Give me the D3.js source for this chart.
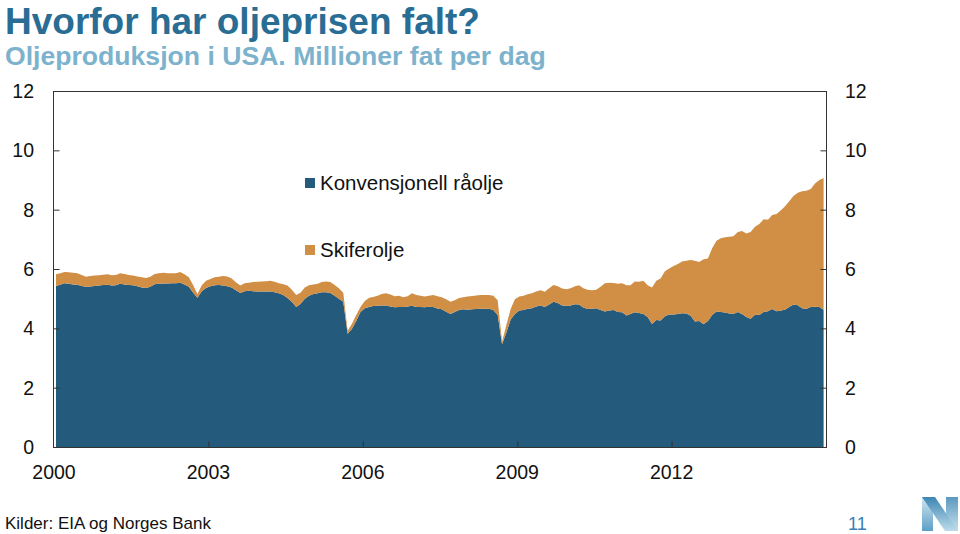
<!DOCTYPE html>
<html>
<head>
<meta charset="utf-8">
<script src="https://cdn.jsdelivr.net/npm/d3@7"></script>
<style>
  html, body { margin: 0; padding: 0; background: #fff; }
  svg { display: block; font-family: "Liberation Sans", Arial, sans-serif; }
</style>
</head>
<body>
<svg id="chart" width="960" height="534"></svg>
<script>
// ---- Data (million barrels per day, monthly from Jan 2000) ----
const seriesNames = ["Konvensjonell råolje", "Skiferolje"];
const startYear = 2000;
const conventional = [
  5.43,5.47,5.52,5.50,5.48,5.47,5.43,5.40,5.41,5.43,5.44,5.46, // 2000
  5.47,5.44,5.45,5.50,5.48,5.46,5.45,5.42,5.38,5.36,5.40,5.49, // 2001
  5.50,5.51,5.51,5.52,5.52,5.54,5.48,5.40,5.20,5.03,5.25,5.36, // 2002
  5.42,5.45,5.46,5.44,5.42,5.38,5.28,5.19,5.25,5.27,5.25,5.24, // 2003
  5.24,5.24,5.24,5.22,5.18,5.12,5.02,4.90,4.72,4.82,5.00,5.10, // 2004
  5.16,5.18,5.22,5.22,5.19,5.10,5.00,4.90,3.82,3.98,4.25,4.55, // 2005
  4.68,4.72,4.75,4.76,4.77,4.77,4.74,4.71,4.72,4.72,4.74,4.76, // 2006
  4.72,4.72,4.71,4.73,4.72,4.67,4.64,4.56,4.48,4.55,4.62,4.64, // 2007
  4.63,4.64,4.65,4.66,4.66,4.66,4.62,4.45,3.46,3.85,4.30,4.48, // 2008
  4.60,4.62,4.66,4.68,4.74,4.77,4.72,4.80,4.90,4.85,4.77,4.76, // 2009
  4.77,4.81,4.80,4.70,4.65,4.66,4.68,4.62,4.57,4.60,4.62,4.55, // 2010
  4.54,4.43,4.48,4.54,4.52,4.48,4.38,4.15,4.28,4.26,4.41,4.47, // 2011
  4.47,4.48,4.51,4.50,4.42,4.23,4.25,4.14,4.25,4.45,4.57,4.55, // 2012
  4.53,4.50,4.48,4.55,4.48,4.38,4.32,4.46,4.45,4.55,4.58,4.65, // 2013
  4.58,4.60,4.63,4.72,4.80,4.78,4.68,4.66,4.72,4.73,4.72,4.63  // 2014
];
const shale = [
  0.39,0.39,0.38,0.39,0.39,0.39,0.37,0.34,0.35,0.35,0.35,0.35, // 2000
  0.35,0.35,0.35,0.36,0.35,0.34,0.33,0.33,0.34,0.34,0.34,0.34, // 2001
  0.36,0.36,0.35,0.34,0.34,0.36,0.34,0.32,0.25,0.13,0.20,0.24, // 2002
  0.24,0.27,0.28,0.32,0.33,0.30,0.27,0.25,0.27,0.27,0.31,0.33, // 2003
  0.34,0.35,0.36,0.35,0.34,0.37,0.42,0.40,0.40,0.38,0.38,0.35, // 2004
  0.32,0.32,0.34,0.36,0.37,0.36,0.35,0.30,0.10,0.17,0.20,0.17, // 2005
  0.24,0.31,0.31,0.34,0.39,0.41,0.40,0.37,0.38,0.33,0.34,0.42, // 2006
  0.40,0.38,0.36,0.37,0.40,0.41,0.41,0.42,0.42,0.40,0.40,0.41, // 2007
  0.44,0.45,0.46,0.46,0.46,0.46,0.48,0.50,0.09,0.25,0.35,0.50, // 2008
  0.47,0.48,0.49,0.50,0.50,0.51,0.51,0.55,0.56,0.57,0.57,0.56, // 2009
  0.58,0.61,0.65,0.65,0.65,0.62,0.62,0.78,0.95,0.94,0.91,0.95, // 2010
  0.98,1.02,0.97,1.04,1.05,1.12,1.07,1.23,1.32,1.42,1.51,1.55, // 2011
  1.63,1.69,1.74,1.78,1.88,2.05,1.99,2.19,2.10,2.25,2.38,2.49, // 2012
  2.54,2.59,2.62,2.70,2.80,2.82,2.93,2.96,3.07,3.13,3.08,3.17, // 2013
  3.27,3.38,3.48,3.56,3.66,3.79,3.94,3.98,3.98,4.15,4.28,4.44  // 2014
];
const yTicks = [0, 2, 4, 6, 8, 10, 12];
const xTickYears = [2000, 2003, 2006, 2009, 2012];

// ---- Texts ----
const title = "Hvorfor har oljeprisen falt?";
const subtitle = "Oljeproduksjon i USA. Millioner fat per dag";
const source = "Kilder: EIA og Norges Bank";
const pageNo = "11";

// ---- Styles ----
const colors = ["#245a7b", "#d18e45"];
const svg = d3.select("#chart");
const M = { left: 53, right: 826, top: 91, bottom: 447 };

const x = d3.scaleTime()
  .domain([new Date(2000, 0, 1), new Date(2015, 0, 1)])
  .range([M.left + 1, M.right]);
const y = d3.scaleLinear().domain([0, 12]).range([M.bottom, M.top]);

const rows = conventional.map((c, i) => ({
  date: new Date(startYear, i, 15),
  conv: c,
  shale: shale[i]
}));
const stack = d3.stack().keys(["conv", "shale"]);
const layers = stack(rows);

const area = d3.area()
  .x(d => x(d.data.date))
  .y0(d => y(d[0]))
  .y1(d => y(d[1]))
  .curve(d3.curveLinear);

svg.append("g").selectAll("path")
  .data(layers)
  .join("path")
  .attr("d", area)
  .attr("fill", (d, i) => colors[i]);

// Frame
svg.append("rect")
  .attr("x", M.left + 0.5).attr("y", M.top + 0.5)
  .attr("width", M.right - M.left).attr("height", M.bottom - M.top)
  .attr("fill", "none").attr("stroke", "#333").attr("stroke-width", 1);

// Left / right axes (ticks inside)
const leftAxis = d3.axisRight(y).tickValues(yTicks.filter(v => v > 0 && v < 12))
  .tickSize(6).tickFormat("");
svg.append("g").attr("transform", `translate(${M.left + 0.5},0)`).call(leftAxis)
  .call(g => g.select(".domain").remove())
  .call(g => g.selectAll("line").attr("stroke", "#333"));
const rightAxis = d3.axisLeft(y).tickValues(yTicks.filter(v => v > 0 && v < 12))
  .tickSize(6).tickFormat("");
svg.append("g").attr("transform", `translate(${M.right + 0.5},0)`).call(rightAxis)
  .call(g => g.select(".domain").remove())
  .call(g => g.selectAll("line").attr("stroke", "#333"));

// y labels
svg.append("g").selectAll("text").data(yTicks).join("text")
  .attr("x", 34).attr("y", d => y(d)).attr("dy", "0.36em")
  .attr("text-anchor", "end").attr("font-size", 19.5).attr("fill", "#111")
  .text(d => d);
svg.append("g").selectAll("text").data(yTicks).join("text")
  .attr("x", 845).attr("y", d => y(d)).attr("dy", "0.36em")
  .attr("text-anchor", "start").attr("font-size", 19.5).attr("fill", "#111")
  .text(d => d);

// Bottom axis ticks (inside) and labels
const bottomAxis = d3.axisTop(x)
  .tickValues(xTickYears.filter(v => v > 2000).map(v => new Date(v, 0, 1)))
  .tickSize(6).tickFormat("");
svg.append("g").attr("transform", `translate(0,${M.bottom + 0.5})`).call(bottomAxis)
  .call(g => g.select(".domain").remove())
  .call(g => g.selectAll("line").attr("stroke", "#333"));
svg.append("g").selectAll("text").data(xTickYears).join("text")
  .attr("x", d => x(new Date(d, 0, 1))).attr("y", 479)
  .attr("text-anchor", "middle").attr("font-size", 19.5).attr("fill", "#111")
  .text(d => d);

// Legend
const legend = svg.append("g");
const legendY = [178, 245];
seriesNames.forEach((name, i) => {
  legend.append("rect").attr("x", 305).attr("y", legendY[i])
    .attr("width", 10).attr("height", 10).attr("fill", colors[i]);
  legend.append("text").attr("x", 320).attr("y", legendY[i] + 12)
    .attr("font-size", 20.5).attr("fill", "#111").text(name);
});

// Titles
svg.append("text").attr("x", 5).attr("y", 33.5)
  .attr("font-size", 37).attr("font-weight", "bold").attr("fill", "#2a6d94")
  .text(title);
svg.append("text").attr("x", 5).attr("y", 64.5)
  .attr("font-size", 26.6).attr("font-weight", "bold").attr("fill", "#7db2cd")
  .text(subtitle);

// Footer
svg.append("text").attr("x", 5).attr("y", 529)
  .attr("font-size", 17).attr("fill", "#111").text(source);
svg.append("text").attr("x", 848).attr("y", 530)
  .attr("font-size", 18).attr("fill", "#3a7fb6").text(pageNo);

// Logo (Norges Bank N)
const defs = svg.append("defs");
const grad = defs.append("linearGradient").attr("id", "lg").attr("x1", 0).attr("y1", 0).attr("x2", 0).attr("y2", 1);
grad.append("stop").attr("offset", "0%").attr("stop-color", "#3f86b3");
grad.append("stop").attr("offset", "100%").attr("stop-color", "#bcdcea");
const grad2 = defs.append("linearGradient").attr("id", "lg2").attr("x1", 0).attr("y1", 0).attr("x2", 0).attr("y2", 1);
grad2.append("stop").attr("offset", "0%").attr("stop-color", "#cfe6f0");
grad2.append("stop").attr("offset", "100%").attr("stop-color", "#5d9fc6");
const logo = svg.append("g");
logo.append("polygon").attr("points", "922,497 933,497 933,531 922,531").attr("fill", "url(#lg2)");
logo.append("polygon").attr("points", "922,497 935,497 958,531 945,531").attr("fill", "url(#lg)");
logo.append("polygon").attr("points", "946,497 958,497 958,531 946,531").attr("fill", "url(#lg)").attr("opacity", 0.85);
</script>
</body>
</html>
